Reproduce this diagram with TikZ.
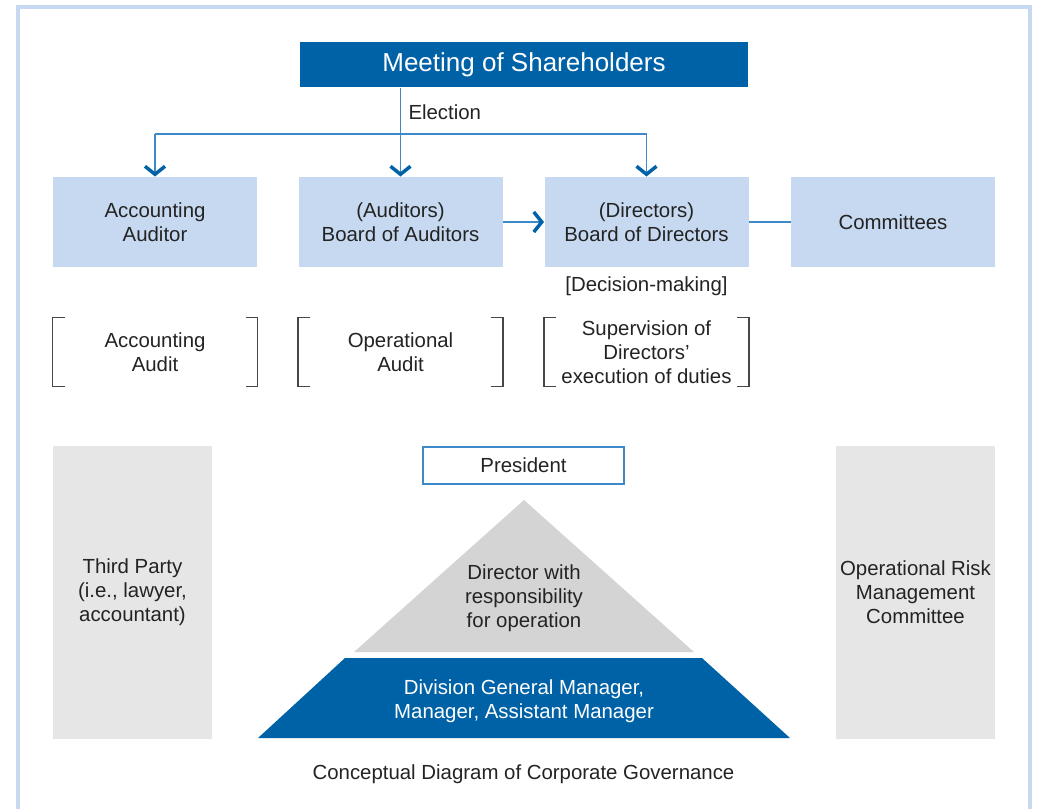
\documentclass[tikz,border=0pt]{standalone}
\usepackage{fontspec}
\setmainfont{Liberation Sans}
\usetikzlibrary{arrows.meta}

\definecolor{darkblue}{RGB}{0,98,166}
\definecolor{paleblue}{RGB}{198,217,240}
\definecolor{linkblue}{RGB}{62,138,200}
\definecolor{boxgray}{RGB}{230,230,230}
\definecolor{pyrgray}{RGB}{212,212,212}
\definecolor{inkgray}{RGB}{35,35,35}
\definecolor{brackgray}{RGB}{70,70,70}

\newcommand{\bodyfont}{\fontsize{15.3}{18}\selectfont}
\newcommand{\headfont}{\fontsize{19.5}{23}\selectfont}

\tikzset{every picture/.style={line width=0.75pt}}
\tikzset{
  every node/.style={text=inkgray, font=\bodyfont, align=center, inner sep=0.75pt},
  headbox/.style={fill=darkblue, text=white, font=\headfont, minimum width=336pt, minimum height=33.75pt},
  bodybox/.style={fill=paleblue, minimum width=153pt, minimum height=67.5pt},
  notebox/.style={minimum width=153pt, minimum height=51pt},
  sidebox/.style={fill=boxgray, minimum width=119.25pt, minimum height=219.75pt},
  presbox/.style={draw=linkblue, line width=1.1pt, fill=white, minimum width=150.75pt, minimum height=27.75pt},
  link/.style={draw=linkblue, line width=1.1pt},
  elect/.style={link, -{Straight Barb[length=6pt, width=15pt, line width=2.6pt, color=darkblue]}},
  brack/.style={draw=brackgray, line width=0.8pt},
  frame/.style={draw=paleblue, line width=3pt}
}

\begin{document}
\begin{tikzpicture}[x=0.75pt,y=0.75pt,yscale=-1,xscale=1]
    \useasboundingbox (0,0) rectangle (1038,808);

    % Outer frame
    \draw[frame] (18,7) rectangle (1030,850);

    % Top of the chart
    \node[headbox] (meet) at (524,64.5) {Meeting of Shareholders};
    \node[bodybox] (acc) at (155,222) {Accounting\\Auditor};
    \node[bodybox] (aud) at (400.5,222) {(Auditors)\\Board of Auditors};
    \node[bodybox] (dir) at (646.5,222) {(Directors)\\Board of Directors};
    \node[bodybox] (com) at (893,222) {Committees};
    \coordinate (bus) at (524,134);

    % Election
    \draw[elect] (aud.north |- meet.south) -- (aud.north);
    \draw[link] (acc.north |- bus) -- (dir.north |- bus);
    \draw[elect] (acc.north |- bus) -- (acc.north);
    \draw[elect] (dir.north |- bus) -- (dir.north);
    \node[anchor=west] (elec) at (407,112) {Election};

    % Between the boards
    \draw[elect] (aud.east) -- (dir.west);
    \draw[link] (dir.east) -- (com.west);
    \node (dec) at (646.5,286) {[Decision-making]};

    % Audit roles
    \node[notebox] (accaud) at (155,352) {Accounting\\Audit};
    \node[notebox] (opaud) at (400.5,352) {Operational\\Audit};
    \node[notebox] (supv) at (646.5,352) {Supervision of\\Directors'\\execution of duties};
    \foreach \n in {accaud,opaud,supv}{
        \draw[brack] ([xshift=9pt]\n.north west) -- (\n.north west) -- (\n.south west) -- ([xshift=9pt]\n.south west);
        \draw[brack] ([xshift=-9pt]\n.north east) -- (\n.north east) -- (\n.south east) -- ([xshift=-9pt]\n.south east);
    }

    % Side boxes
    \node[sidebox] (third) at (132.5,592.5) {Third Party\\(i.e., lawyer,\\accountant)};
    \node[sidebox] (risk) at (915.5,592.5) {Operational Risk\\Management\\Committee};

    % Pyramid
    \node[presbox] (pres) at (523.5,465.5) {President};
    \fill[pyrgray] (524,500) -- (694,652) -- (354,652) -- cycle;
    \node (dirop) at (524,598) {Director with\\responsibility\\for operation};
    \fill[darkblue] (345,658) -- (702,658) -- (790,738) -- (258,738) -- cycle;
    \node[text=white] (mgr) at (524,701.5) {Division General Manager,\\Manager, Assistant Manager};

    % Caption
    \node (cap) at (523.5,774) {Conceptual Diagram of Corporate Governance};

\end{tikzpicture}
\end{document}
